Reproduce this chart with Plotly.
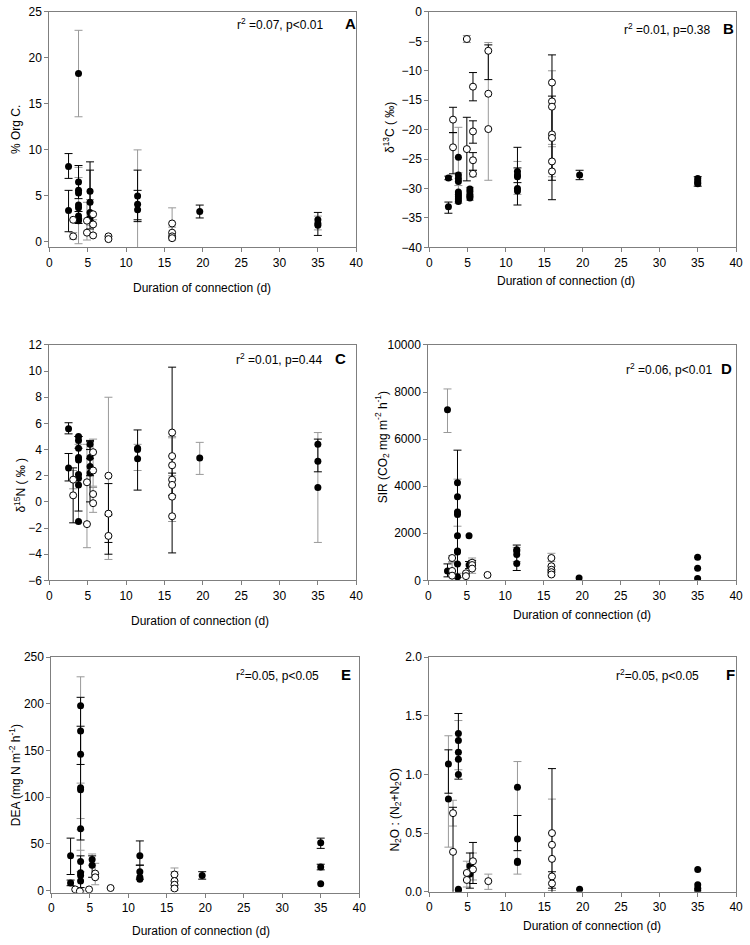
import plotly.graph_objects as go

W, H = 750, 945
FONT = "Liberation Sans, Arial, sans-serif"

# ---------------- DATA ----------------
X_TICKS = [0, 5, 10, 15, 20, 25, 30, 35, 40]

# Panel A: % Org C
A_fx = [2.5, 2.5, 3.8, 3.8, 3.8, 3.8, 3.8, 3.8, 3.8, 3.8, 3.8, 5.3, 5.3, 5.3, 5.3, 11.5, 11.5, 11.5, 19.6, 35, 35, 35]
A_fy = [8.2, 3.4, 18.3, 6.5, 5.6, 5.3, 4.0, 3.7, 2.8, 2.5, 2.3, 5.5, 4.3, 3.2, 2.6, 5.0, 4.1, 3.5, 3.3, 2.4, 2.0, 1.8]
A_ox = [3.1, 3.1, 4.9, 4.9, 5.7, 5.7, 5.7, 7.7, 7.7, 16, 16, 16, 16]
A_oy = [2.4, 0.6, 2.3, 1.0, 3.0, 1.9, 0.7, 0.6, 0.3, 2.0, 1.0, 0.6, 0.4]
A_ex = [2.5, 2.5, 3.8, 3.8, 3.8, 3.8, 3.8, 5.3, 5.3, 5.3, 4.9, 3.1, 11.5, 11.5, 11.5, 16, 16, 19.6, 35, 35, 5.7]
A_ey = [8.2, 3.4, 18.3, 6.5, 5.3, 3.7, 2.5, 5.5, 4.3, 3.2, 2.3, 0.6, 5.0, 4.1, 3.5, 2.0, 1.0, 3.3, 2.4, 2.0, 1.9]
A_hi = [9.6, 5.6, 23.0, 8.3, 8.1, 7.0, 3.3, 8.7, 7.8, 4.6, 4.3, 1.0, 5.6, 10.0, 7.8, 3.7, 1.6, 4.0, 3.2, 2.8, 2.4]
A_lo = [6.9, 1.1, 13.6, 4.7, 2.5, -0.2, 2.0, 2.3, 1.4, 1.8, 0.2, 0.3, 2.4, -2.0, 2.2, 0.2, 0.4, 2.6, 0.7, 1.3, 0.9]
A_ec = ["k", "k", "g", "k", "g", "g", "k", "k", "k", "g", "g", "g", "k", "g", "k", "g", "g", "k", "k", "g", "g"]

# Panel B: d13C
B_fx = [2.5, 2.5] + [3.8] * 9 + [5.3] * 5 + [11.5] * 5 + [19.6] + [35] * 4
B_fy = [-28.2, -33.1, -24.7, -27.7, -28.3, -28.8, -30.6, -31.0, -31.4, -31.8, -32.2,
        -30.1, -30.5, -31.0, -31.3, -31.6, -27.1, -27.7, -28.0, -30.0, -30.4, -27.7,
        -28.3, -28.7, -29.0, -29.2]
B_ox = [3.1, 3.1, 4.9, 4.9] + [5.7] * 4 + [7.7] * 3 + [16] * 7
B_oy = [-18.3, -23.0, -4.6, -23.3, -12.7, -20.3, -25.2, -27.5, -6.6, -13.9, -19.9,
        -12.0, -15.2, -16.1, -20.8, -21.4, -25.4, -27.1]
B_ex = [2.5, 2.5, 3.1, 3.1, 3.8, 3.8, 4.9, 4.9, 5.3, 5.7, 5.7, 5.7, 5.7, 7.7, 7.7, 11.5, 11.5, 11.5, 16, 16, 16, 16, 19.6, 35]
B_ey = [-33.1, -28.2, -18.3, -23.0, -24.7, -28.3, -4.6, -23.3, -30.5, -12.7, -20.3, -25.2, -27.5, -13.9, -6.6,
        -27.7, -30.0, -27.1, -21.4, -15.2, -16.1, -25.4, -27.7, -28.7]
B_hi = [-32.3, -27.9, -16.2, -20.5, -19.6, -27.3, -4.0, -17.9, -29.8, -10.3, -18.5, -23.9, -26.9, -5.2, -5.6,
        -23.0, -25.4, -26.5, -7.3, -10.0, -14.3, -22.9, -26.9, -28.0]
B_lo = [-34.2, -28.5, -20.5, -27.5, -29.5, -32.5, -5.2, -28.7, -32.0, -15.1, -22.3, -26.9, -28.0, -28.6, -11.5,
        -32.8, -31.0, -29.0, -31.9, -22.5, -28.6, -28.0, -28.5, -29.6]
B_ec = ["k", "k", "k", "k", "g", "g", "g", "k", "g", "k", "k", "k", "g", "g", "k",
        "k", "g", "k", "k", "g", "k", "g", "k", "k"]

# Panel C: d15N
C_fx = [2.5, 2.5] + [3.8] * 9 + [5.3] * 4 + [11.5] * 3 + [19.6] + [35] * 3
C_fy = [5.6, 2.6, 5.0, 4.7, 4.1, 3.4, 3.2, 2.1, 1.8, 1.3, -1.5, 4.4, 3.4, 2.7, 2.2,
        4.1, 4.0, 3.3, 3.35, 4.4, 3.1, 1.1]
C_ox = [3.1, 3.1, 4.9, 4.9] + [5.7] * 4 + [7.7] * 3 + [16] * 7
C_oy = [1.7, 0.5, 1.5, -1.7, 3.8, 2.4, 0.6, -0.1, 2.0, -0.9, -2.6, 5.3, 3.5, 2.8, 1.7, 1.3, 0.4, -1.1]
C_ex = [2.5, 2.5, 3.1, 3.1, 3.8, 3.8, 3.8, 4.9, 5.3, 5.3, 5.3, 5.7, 5.7, 7.7, 7.7, 7.7, 11.5, 11.5, 16, 16, 16, 16, 19.6, 35, 35]
C_ey = [5.6, 2.6, 0.5, 1.7, 3.4, 2.1, 4.7, 1.5, 3.4, 4.4, 2.2, 3.8, 0.6, 2.0, -0.9, -2.6, 4.1, 4.0, 2.8, 1.7, 1.3, 3.5, 3.35, 3.1, 4.4]
C_hi = [6.05, 3.7, 2.6, 2.4, 5.0, 4.4, 5.0, 4.4, 4.7, 4.6, 3.3, 4.8, 1.1, 8.0, 1.4, -1.0, 5.5, 4.4, 10.3, 5.0, 2.2, 4.9, 4.55, 5.3, 4.8]
C_lo = [5.2, 1.6, -1.6, 1.0, -0.7, -1.6, 4.1, -3.5, 2.0, 4.0, 0.0, 1.2, -0.8, -4.4, -3.1, -4.0, 0.9, 2.4, -3.9, -1.5, 0.5, 2.0, 2.1, -3.1, 2.3]
C_ec = ["k", "k", "k", "g", "k", "g", "k", "g", "k", "k", "k", "g", "g", "g", "k", "k", "k", "g",
        "k", "g", "k", "g", "g", "g", "k"]

# Panel D: SIR
D_fx = [2.5, 2.5] + [3.8] * 9 + [5.3, 5.3] + [11.5] * 4 + [19.6] + [35] * 3
D_fy = [7250, 400, 4150, 3550, 2900, 2800, 1900, 1250, 1200, 700, 150, 1900, 650,
        1300, 1250, 1100, 720, 100, 980, 520, 80]
D_ox = [3.1] * 3 + [4.9] * 2 + [5.7] * 3 + [7.7] + [16] * 5
D_oy = [950, 400, 200, 300, 180, 750, 650, 500, 230, 950, 600, 450, 350, 250]
D_ex = [2.5, 2.5, 3.8, 3.8, 3.8, 3.1, 3.1, 5.7, 5.7, 5.3, 11.5, 11.5, 16, 16]
D_ey = [7250, 400, 2800, 1900, 1250, 950, 400, 650, 750, 650, 1250, 1100, 950, 600]
D_hi = [8130, 700, 5530, 4300, 2300, 1050, 800, 950, 850, 800, 1500, 1400, 1150, 800]
D_lo = [6280, 150, 120, 700, 300, 750, 0, 300, 500, 500, 420, 800, 200, 400]
D_ec = ["g", "k", "k", "g", "g", "g", "g", "g", "k", "k", "k", "g", "g", "g"]

# Panel E: DEA
E_fx = [2.5, 2.5] + [3.8] * 10 + [5.3, 5.3] + [11.5] * 4 + [19.6] + [35] * 3
E_fy = [37, 8, 198, 171, 146, 110, 108, 66, 31, 19, 16, 10, 33, 27, 37, 20, 14, 12, 16, 51, 25, 7]
E_ox = [3.1, 3.7, 4.9, 5.7, 5.7, 7.7, 16, 16, 16, 16]
E_oy = [1, -1, 1, 18, 14, 2.5, 17, 10, 6, 2]
E_ex = [2.5, 2.5, 3.8, 3.8, 3.8, 3.8, 3.8, 3.8, 3.8, 5.3, 5.3, 5.7, 11.5, 11.5, 16, 16, 19.6, 35, 35]
E_ey = [37, 8, 146, 171, 110, 66, 31, 19, 16, 33, 27, 18, 37, 20, 10, 17, 16, 51, 25]
E_hi = [56, 11, 229, 207, 176, 115, 77, 43, 37, 39, 37, 29, 53, 27, 24, 20, 20, 56, 28]
E_lo = [17, 5, 65, 135, 54, 20, -2, 0, 3, 27, 14, 6, 27, 12, 0, 5, 12, 45, 22]
E_ec = ["k", "k", "g", "k", "k", "g", "g", "g", "k", "g", "k", "g", "k", "k", "g", "g", "k", "k", "k"]

# Panel F: N2O : (N2+N2O)
F_fx = [2.5, 2.5] + [3.8] * 7 + [5.3, 5.3] + [11.5] * 4 + [19.6] + [35] * 4
F_fy = [1.09, 0.79, 1.35, 1.29, 1.19, 1.13, 1.00, 0.02, 0.01, 0.22, 0.15,
        0.89, 0.45, 0.26, 0.25, 0.02, 0.19, 0.06, 0.03, 0.01]
F_ox = [3.1, 3.1, 4.9, 4.9, 5.7, 5.7, 7.7] + [16] * 5
F_oy = [0.67, 0.34, 0.16, 0.10, 0.26, 0.19, 0.09, 0.50, 0.40, 0.28, 0.13, 0.07]
F_ex = [2.5, 2.5, 3.1, 3.1, 3.8, 3.8, 4.9, 5.3, 5.7, 5.7, 7.7, 11.5, 11.5, 16, 16, 16]
F_ey = [0.79, 1.09, 0.67, 0.34, 1.19, 1.29, 0.16, 0.22, 0.26, 0.19, 0.09, 0.89, 0.45, 0.28, 0.40, 0.13]
F_hi = [1.33, 1.21, 0.78, 0.72, 1.52, 1.46, 0.26, 0.33, 0.42, 0.33, 0.15, 1.11, 0.65, 1.05, 0.79, 0.17]
F_lo = [0.38, 0.84, 0.56, -0.05, 0.96, 1.04, 0.04, 0.03, 0.07, 0.10, 0.02, 0.15, 0.35, -0.01, 0.01, 0.03]
F_ec = ["g", "k", "g", "k", "k", "g", "g", "k", "k", "g", "g", "g", "k", "k", "g", "k"]

STATS = ["r<sup>2</sup> =0.07, p<0.01", "r<sup>2</sup> =0.01, p=0.38", "r<sup>2</sup> =0.01, p=0.44",
         "r<sup>2</sup> =0.06, p<0.01", "r<sup>2</sup>=0.05, p<0.05", "r<sup>2</sup>=0.05, p<0.05"]
LETTERS = ["A", "B", "C", "D", "E", "F"]
YTITLES = ["% Org C.", "δ<sup>13</sup>C ( ‰)", "δ<sup>15</sup>N ( ‰ )",
           "SIR (CO<sub>2</sub> mg m<sup>-2</sup> h<sup>-1</sup>)",
           "DEA (mg N m<sup>-2</sup> h<sup>-1</sup>)",
           "N<sub>2</sub>O : (N<sub>2</sub>+N<sub>2</sub>O)"]
XTITLE = "Duration of connection (d)"
Y_RANGES = [[-0.6, 25], [-40, 0], [-6, 12], [0, 10000], [-2.5, 250], [0, 2]]
Y_TICKS = [[0, 5, 10, 15, 20, 25], list(range(-40, 1, 5)), list(range(-6, 13, 2)),
           [0, 2000, 4000, 6000, 8000, 10000], [0, 50, 100, 150, 200, 250],
           [0, 0.5, 1.0, 1.5, 2.0]]
Y_TICKTEXT = [None, None, None, ["0", "2000", "4000", "6000", "8000", "10000"], None,
              ["0.0", "0.5", "1.0", "1.5", "2.0"]]

# ---------------- LAYOUT (pixel boxes) ----------------
# (left, right, top, bottom) in px
BOX = [(47, 358, 5, 244), (432, 743, 5, 244), (47, 358, 343, 582),
       (431, 743, 343, 582), (49, 361, 660, 899), (432, 743, 660, 898)]
STAT_POS = [(281, 17), (673, 22), (280, 357), (675, 367), (278, 678), (663, 678)]
LET_POS = [(352, 17), (735, 22), (342, 357), (733, 367), (348, 678), (737, 678)]
YT_POS = [(13, 124), (391, 122), (17, 485), (385, 447), (13, 780), (398, 815)]
XT_POS = [(202, 285), (571, 278), (200, 623), (587, 617), (201, 938), (597, 933)]


def px(x):
    return x / W


def py(y):
    return 1 - y / H


panels = [
    (A_fx, A_fy, A_ox, A_oy, A_ex, A_ey, A_hi, A_lo, A_ec),
    (B_fx, B_fy, B_ox, B_oy, B_ex, B_ey, B_hi, B_lo, B_ec),
    (C_fx, C_fy, C_ox, C_oy, C_ex, C_ey, C_hi, C_lo, C_ec),
    (D_fx, D_fy, D_ox, D_oy, D_ex, D_ey, D_hi, D_lo, D_ec),
    (E_fx, E_fy, E_ox, E_oy, E_ex, E_ey, E_hi, E_lo, E_ec),
    (F_fx, F_fy, F_ox, F_oy, F_ex, F_ey, F_hi, F_lo, F_ec),
]

ECOL = {"k": "#000000", "g": "#999999"}

fig = go.Figure()
annotations = []
for i, (fx, fy, ox, oy, ex, ey, hi, lo, ec) in enumerate(panels):
    n = "" if i == 0 else str(i + 1)
    xa, ya = "x" + n, "y" + n
    # error bars, grouped by colour
    for c in ["g", "k"]:
        idx = [j for j in range(len(ex)) if ec[j] == c]
        if not idx:
            continue
        fig.add_trace(go.Scatter(
            x=[ex[j] for j in idx], y=[ey[j] for j in idx], mode="markers",
            marker=dict(size=1, opacity=0),
            error_y=dict(type="data", symmetric=False,
                         array=[hi[j] - ey[j] for j in idx],
                         arrayminus=[ey[j] - lo[j] for j in idx],
                         color=ECOL[c], thickness=1, width=4),
            xaxis=xa, yaxis=ya, showlegend=False, hoverinfo="skip"))
    fig.add_trace(go.Scatter(x=fx, y=fy, mode="markers",
                             marker=dict(size=7, color="black", line=dict(width=0)),
                             xaxis=xa, yaxis=ya, showlegend=False))
    fig.add_trace(go.Scatter(x=ox, y=oy, mode="markers",
                             marker=dict(size=7, color="white", line=dict(width=1, color="black")),
                             xaxis=xa, yaxis=ya, showlegend=False))

    l, r, t, b = BOX[i]
    axis_common = dict(showgrid=False, zeroline=False, showline=True, mirror=True,
                       linecolor="#7f7f7f", linewidth=1, ticks="outside", ticklen=4,
                       tickcolor="#7f7f7f", tickfont=dict(family=FONT, size=12, color="black"))
    fig.layout["xaxis" + n] = dict(domain=[px(l), px(r)], anchor=ya, range=[0, 40],
                                   tickvals=X_TICKS, **axis_common)
    yd = dict(domain=[py(b), py(t)], anchor=xa, range=Y_RANGES[i], tickvals=Y_TICKS[i],
              **axis_common)
    if Y_TICKTEXT[i]:
        yd["ticktext"] = Y_TICKTEXT[i]
    fig.layout["yaxis" + n] = yd

    annotations.append(dict(text=STATS[i], x=px(STAT_POS[i][0]), y=py(STAT_POS[i][1]),
                            xref="paper", yref="paper", showarrow=False,
                            font=dict(family=FONT, size=12, color="black"),
                            xanchor="center", yanchor="middle"))
    annotations.append(dict(text="<b>" + LETTERS[i] + "</b>", x=px(LET_POS[i][0]), y=py(LET_POS[i][1]),
                            xref="paper", yref="paper", showarrow=False,
                            font=dict(family=FONT, size=15, color="black"),
                            xanchor="center", yanchor="middle"))
    annotations.append(dict(text=YTITLES[i], x=px(YT_POS[i][0]), y=py(YT_POS[i][1]),
                            xref="paper", yref="paper", showarrow=False, textangle=-90,
                            font=dict(family=FONT, size=12, color="black"),
                            xanchor="center", yanchor="middle"))
    annotations.append(dict(text=XTITLE, x=px(XT_POS[i][0]), y=py(XT_POS[i][1]),
                            xref="paper", yref="paper", showarrow=False,
                            font=dict(family=FONT, size=12, color="black"),
                            xanchor="center", yanchor="middle"))

fig.update_layout(width=W, height=H, margin=dict(l=0, r=0, t=0, b=0),
                  paper_bgcolor="white", plot_bgcolor="white",
                  annotations=annotations, showlegend=False,
                  font=dict(family=FONT, size=12, color="black"))
fig.write_html("out.html", config={"displayModeBar": False},
               post_script="document.body.style.margin='0';document.body.style.overflow='hidden';")
